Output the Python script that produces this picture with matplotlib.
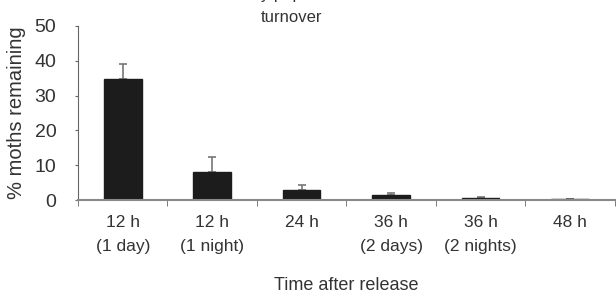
import numpy as np
import matplotlib.pyplot as plt

plt.rcParams['font.family'] = ['Liberation Sans', 'DejaVu Sans']

# data
categories = ["12 h\n(1 day)", "12 h\n(1 night)", "24 h", "36 h\n(2 days)", "36 h\n(2 nights)", "48 h"]
remaining = [34.8, 8.0, 3.0, 1.3, 0.5, 0.2]
err_upper = [4.4, 4.5, 1.4, 0.6, 0.3, 0.1]

x = np.arange(len(categories))

fig = plt.figure(figsize=(6.16, 2.94), dpi=100)
ax = fig.add_axes([0.1266, 0.3197, 0.8714, 0.5919])

ax.bar(x, remaining, width=0.42, color="#1c1c1c", edgecolor="#1c1c1c", zorder=2)
ax.errorbar(x, remaining, yerr=[np.zeros(len(x)), err_upper], fmt="none",
            ecolor="#777777", elinewidth=1.2, capsize=3, capthick=1.2, zorder=1)

ax.set_xlim(-0.5, len(x) - 0.5)
ax.set_ylim(0, 50)
ax.set_yticks([0, 10, 20, 30, 40, 50])

ax.set_xticks(x)
ax.set_xticklabels(categories, fontsize=12.5, color="#333333", linespacing=1.75, va="top")
ax.set_xticks(np.arange(len(x) + 1) - 0.5, minor=True)
ax.tick_params(axis="x", which="major", length=0, pad=11)
ax.tick_params(axis="x", which="minor", length=4, direction="out", color="#666666")
ax.tick_params(axis="y", length=2.5, direction="out", color="#666666", labelsize=14,
               labelcolor="#333333", pad=13)

for s in ["top", "right"]:
    ax.spines[s].set_visible(False)
ax.spines["left"].set_color("#666666")
ax.spines["bottom"].set_color("#888888")
ax.spines["bottom"].set_linewidth(1.5)

ax.set_ylabel("% moths remaining", fontsize=14.5, color="#333333", labelpad=6)
ax.set_xlabel("Time after release", fontsize=13, color="#333333", labelpad=16)

# title, first line cut off at the top edge
fig.text(0.474, 1.0 + 1 / 294, "Daily population", ha="center", va="baseline",
         fontsize=12, color="#333333")
fig.text(0.474, 1 - 17 / 294, "turnover", ha="center", va="center",
         fontsize=12, color="#333333")

fig.savefig("out.png", dpi=100)
